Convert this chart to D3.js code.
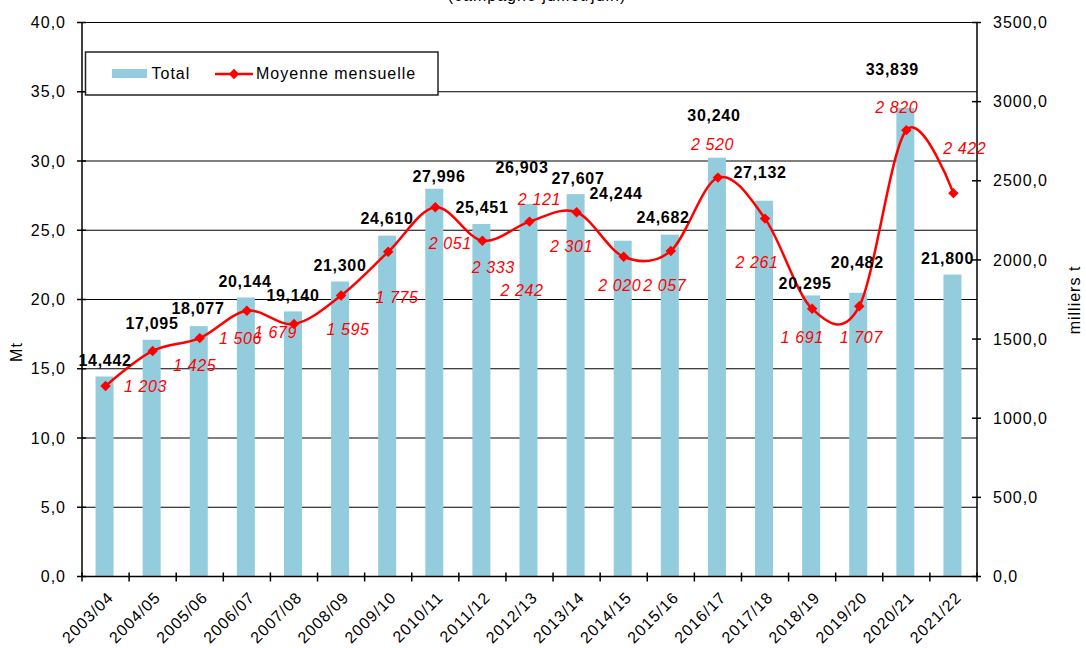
<!DOCTYPE html>
<html lang="fr">
<head>
<meta charset="UTF-8">
<title>Total et moyenne mensuelle</title>
<style>
  body, html { margin: 0; padding: 0; background: #fff; }
  svg { display: block; font-family: "Liberation Sans", Arial, sans-serif; }
  .tick-label { font-size: 16px; letter-spacing: 1px; fill: #000; }
  .bar-label { font-size: 16px; font-weight: bold; letter-spacing: 0.7px; fill: #000; }
  .line-label { font-size: 16px; font-style: italic; letter-spacing: 0.6px; fill: #ff0000; }
</style>
</head>
<body>
<svg width="1086" height="648"></svg>
<script src="https://d3js.org/d3.v7.min.js"></script>
<script>
const categories = ["2003/04", "2004/05", "2005/06", "2006/07", "2007/08", "2008/09", "2009/10",
  "2010/11", "2011/12", "2012/13", "2013/14", "2014/15", "2015/16", "2016/17", "2017/18",
  "2018/19", "2019/20", "2020/21", "2021/22"];
// Total (Mt)
const totals = [14.442, 17.095, 18.077, 20.144, 19.140, 21.300, 24.610, 27.996, 25.451, 26.903,
  27.607, 24.244, 24.682, 30.240, 27.132, 20.295, 20.482, 33.839, 21.800];
// Moyenne mensuelle (milliers t)
const monthly = [1203, 1425, 1506, 1679, 1595, 1775, 2051, 2333, 2121, 2242,
  2301, 2020, 2057, 2520, 2261, 1691, 1707, 2820, 2422];
const leftTicks = [0, 5, 10, 15, 20, 25, 30, 35, 40];
const rightTicks = [0, 500, 1000, 1500, 2000, 2500, 3000, 3500];

// hand placed label offsets (px), as in the original sheet
const barLabelNudge = [[-0.5, -16.5], [-0.7, -16.7], [-1.8, -18], [-1.9, -16.5], [-1, -16.4],
  [-1.1, -16.5], [-1.2, -17.7], [3.7, -12.8], [-0.4, -17], [-7.5, -36], [1.4, -16],
  [-7.7, -47.7], [-7.8, -17.7], [-4, -42.7], [-5, -28.7], [-7, -12.4], [-2, -30.8],
  [-14, -38.5], [-6, -16.6]];
const lineLabelNudge = [[40, 0.6], [42, 14], [40.7, 0], [28.6, 21.5], [54, 5], [56, 1.5],
  [62, -8.5], [58, 60], [57, -41], [-7.5, 69], [-5, 34], [-4, 29], [-6, 34.6], [-5.4, -33.4],
  [-8, 43.4], [-10, 29], [2, 31.5], [-9.5, -22.3], [11.3, -44.8]];

const svg = d3.select("svg");
const plot = { left: 82, right: 977, top: 22.5, bottom: 576.5 };

const x = d3.scaleBand().domain(categories).range([plot.left, plot.right]).paddingInner(0).paddingOuter(0);
const yL = d3.scaleLinear().domain([0, 40]).range([plot.bottom, plot.top]);
const yR = d3.scaleLinear().domain([0, 3500]).range([plot.bottom, plot.top]);

const fr = d3.formatLocale({ decimal: ",", thousands: " ", grouping: [3], currency: ["", " €"] });
const fmt1 = fr.format(".1f");
const fmt3 = fr.format(".3f");
const fmtInt = fr.format(",d");

// title, cut at the top of the picture
svg.append("text")
  .attr("x", 537).attr("y", 1)
  .attr("text-anchor", "middle")
  .attr("class", "tick-label")
  .text("(campagne juillet/juin)");

// gridlines
svg.append("g")
  .selectAll("line")
  .data(leftTicks.filter(d => d > 0))
  .join("line")
  .attr("x1", plot.left).attr("x2", plot.right)
  .attr("y1", d => yL(d)).attr("y2", d => yL(d))
  .attr("stroke", "#000").attr("stroke-width", 1.2);

// bars
const barW = 18;
svg.append("g")
  .selectAll("rect")
  .data(totals)
  .join("rect")
  .attr("x", (d, i) => x(categories[i]) + x.bandwidth() / 2 - barW / 2 - 1)
  .attr("width", barW)
  .attr("y", d => yL(d))
  .attr("height", d => yL(0) - yL(d))
  .attr("fill", "#93cddd");

// left axis
const gL = svg.append("g");
gL.append("line")
  .attr("x1", plot.left).attr("x2", plot.left)
  .attr("y1", plot.top).attr("y2", plot.bottom)
  .attr("stroke", "#000").attr("stroke-width", 1.5);
gL.selectAll(".tk").data(leftTicks).join("line")
  .attr("x1", plot.left - 5).attr("x2", plot.left + 4)
  .attr("y1", d => yL(d)).attr("y2", d => yL(d))
  .attr("stroke", "#000").attr("stroke-width", 1.5);
gL.selectAll("text").data(leftTicks).join("text")
  .attr("class", "tick-label")
  .attr("x", 66).attr("y", d => yL(d))
  .attr("dy", "0.35em")
  .attr("text-anchor", "end")
  .text(d => fmt1(d));

// right axis
const gR = svg.append("g");
gR.append("line")
  .attr("x1", plot.right).attr("x2", plot.right)
  .attr("y1", plot.top).attr("y2", plot.bottom)
  .attr("stroke", "#000").attr("stroke-width", 1.5);
gR.selectAll(".tk").data(rightTicks).join("line")
  .attr("x1", plot.right - 5).attr("x2", plot.right + 4)
  .attr("y1", d => yR(d)).attr("y2", d => yR(d))
  .attr("stroke", "#000").attr("stroke-width", 1.5);
gR.selectAll("text").data(rightTicks).join("text")
  .attr("class", "tick-label")
  .attr("x", 993).attr("y", d => yR(d))
  .attr("dy", "0.35em")
  .text(d => fmt1(d));

// bottom axis
const gX = svg.append("g");
gX.append("line")
  .attr("x1", plot.left).attr("x2", plot.right)
  .attr("y1", plot.bottom).attr("y2", plot.bottom)
  .attr("stroke", "#000").attr("stroke-width", 1.5);
gX.selectAll(".tk").data(categories.concat(["end"])).join("line")
  .attr("x1", (d, i) => plot.left + i * x.step()).attr("x2", (d, i) => plot.left + i * x.step())
  .attr("y1", plot.bottom - 4).attr("y2", plot.bottom + 5)
  .attr("stroke", "#000").attr("stroke-width", 1.5);
gX.selectAll("text").data(categories).join("text")
  .attr("class", "tick-label")
  .attr("text-anchor", "end")
  .attr("transform", d => `translate(${x(d) + x.bandwidth() / 2 + 5},${plot.bottom + 18}) rotate(-45)`)
  .attr("dy", "0.35em")
  .text(d => d);

// axis titles
svg.append("text")
  .attr("class", "tick-label")
  .attr("transform", "translate(22,352) rotate(-90)")
  .attr("text-anchor", "middle")
  .text("Mt");
svg.append("text")
  .attr("class", "tick-label")
  .attr("transform", "translate(1080,300) rotate(-90)")
  .attr("text-anchor", "middle")
  .text("milliers t");

// line
const line = d3.line()
  .x((d, i) => x(categories[i]) + x.bandwidth() / 2)
  .y(d => yR(d))
  .curve(d3.curveCardinal.tension(0));
svg.append("path")
  .datum(monthly)
  .attr("d", line)
  .attr("fill", "none")
  .attr("stroke", "#ff0000")
  .attr("stroke-width", 2.5);

const diamond = d3.symbol().type(d3.symbolDiamond2).size(70);
svg.append("g")
  .selectAll("path")
  .data(monthly)
  .join("path")
  .attr("d", diamond)
  .attr("transform", (d, i) => `translate(${x(categories[i]) + x.bandwidth() / 2},${yR(d)})`)
  .attr("fill", "#ff0000");

// bar labels
svg.append("g")
  .selectAll("text")
  .data(totals)
  .join("text")
  .attr("class", "bar-label")
  .attr("text-anchor", "middle")
  .attr("x", (d, i) => x(categories[i]) + x.bandwidth() / 2 + barLabelNudge[i][0])
  .attr("y", (d, i) => yL(d) + barLabelNudge[i][1])
  .attr("dy", "0.35em")
  .text(d => fmt3(d));

// line labels
svg.append("g")
  .selectAll("text")
  .data(monthly)
  .join("text")
  .attr("class", "line-label")
  .attr("text-anchor", "middle")
  .attr("x", (d, i) => x(categories[i]) + x.bandwidth() / 2 + lineLabelNudge[i][0])
  .attr("y", (d, i) => yR(d) + lineLabelNudge[i][1])
  .attr("dy", "0.35em")
  .text(d => fmtInt(d));

// legend
const lg = svg.append("g");
lg.append("rect")
  .attr("x", 85.5).attr("y", 52).attr("width", 352.5).attr("height", 43)
  .attr("fill", "#fff").attr("stroke", "#222").attr("stroke-width", 1.5);
lg.append("rect")
  .attr("x", 112).attr("y", 69).attr("width", 35).attr("height", 9)
  .attr("fill", "#93cddd");
lg.append("text")
  .attr("class", "tick-label")
  .attr("x", 151.5).attr("y", 73).attr("dy", "0.35em")
  .text("Total");
lg.append("line")
  .attr("x1", 215).attr("x2", 253).attr("y1", 74).attr("y2", 74)
  .attr("stroke", "#ff0000").attr("stroke-width", 2.5);
lg.append("path")
  .attr("d", diamond)
  .attr("transform", "translate(234,74)")
  .attr("fill", "#ff0000");
lg.append("text")
  .attr("class", "tick-label")
  .attr("x", 256).attr("y", 73).attr("dy", "0.35em")
  .text("Moyenne mensuelle");
</script>
</body>
</html>
